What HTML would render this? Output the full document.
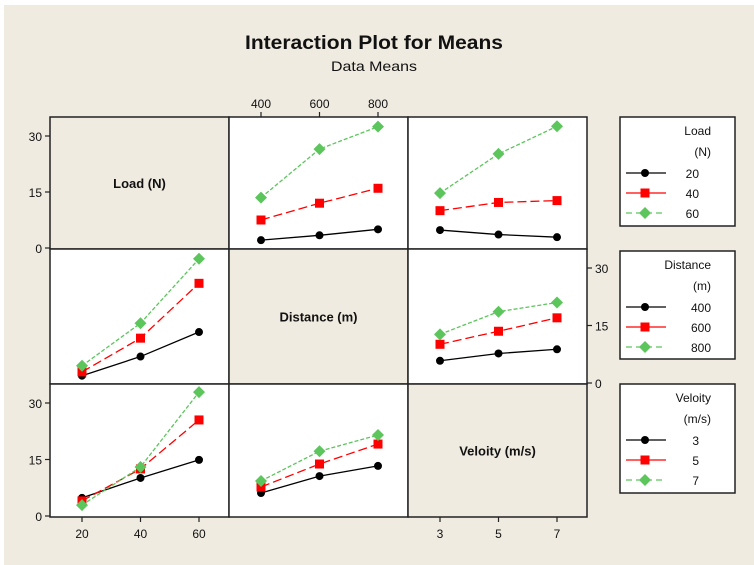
<!DOCTYPE html>
<html><head><meta charset="utf-8"><style>
html,body{margin:0;padding:0;background:#fff;}
svg{display:block;font-family:"Liberation Sans",sans-serif;}
</style></head><body>
<svg id="chart" width="754" height="565" viewBox="0 0 754 565">
<rect x="4" y="5" width="750" height="560" fill="#f0ebe1"/>
<text x="374" y="49" text-anchor="middle" font-size="19" font-weight="bold" textLength="258" lengthAdjust="spacingAndGlyphs" fill="#111">Interaction Plot for Means</text>
<text x="374" y="71" text-anchor="middle" font-size="14" textLength="86" lengthAdjust="spacingAndGlyphs" fill="#111">Data Means</text>
<g id="g"></g>
</svg>
<script>
// levels
const loadLevels = [20, 40, 60];
const distLevels = [400, 600, 800];
const velLevels = [3, 5, 7];
const yTicks = [0, 15, 30];
// row 1: Load traces
const loadByDist = [[2.1, 3.4, 5.0], [7.5, 12.0, 16.0], [13.5, 26.5, 32.5]];
const loadByVel = [[4.8, 3.6, 2.9], [10.0, 12.2, 12.7], [14.7, 25.2, 32.6]];
// row 2: Distance traces
const distByLoad = [[1.9, 6.9, 13.3], [2.9, 11.7, 26.0], [4.5, 15.6, 32.4]];
const distByVel = [[5.8, 7.7, 8.8], [10.1, 13.5, 17.0], [12.7, 18.6, 21.0]];
// row 3: Velocity traces
const velByLoad = [[4.8, 10.1, 14.9], [4.0, 12.5, 25.5], [2.9, 13.0, 32.9]];
const velByDist = [[6.1, 10.6, 13.3], [7.7, 13.8, 19.1], [9.3, 17.2, 21.5]];

const NS = "http://www.w3.org/2000/svg";
const g = document.getElementById('g');
function el(tag, attrs, parent) {
  const e = document.createElementNS(NS, tag);
  for (const k in attrs) e.setAttribute(k, attrs[k]);
  (parent || g).appendChild(e);
  return e;
}
const colX = [50, 229, 408, 587];
const rowY = [117, 249, 384, 517];
const colors = ['#000', '#f00', '#5cc55c'];
const dashes = ['', '9,4', '4,2'];
// x scale within a column: first level at +32, last at +148
function xScale(col, levels, v) {
  const a = colX[col] + 32, b = colX[col] + 149;
  return a + (v - levels[0]) / (levels[2] - levels[0]) * (b - a);
}
function yScale(row, v) {
  const y0 = rowY[row + 1] - 1, y30 = rowY[row] + 19;
  return y0 + v / 30 * (y30 - y0);
}
function marker(i, x, y, parent) {
  let m;
  if (i === 0) m = el('circle', {cx: x, cy: y, r: 4, fill: colors[0]}, parent);
  else if (i === 1) m = el('rect', {x: x - 4.5, y: y - 4.5, width: 9, height: 9, fill: colors[1]}, parent);
  else m = el('polygon', {points: `${x},${y-6} ${x+6},${y} ${x},${y+6} ${x-6},${y}`, fill: colors[2]}, parent);
  return m;
}
// cells
for (let r = 0; r < 3; r++) for (let c = 0; c < 3; c++) {
  const cell = el('rect', {x: colX[c], y: rowY[r], width: colX[c+1]-colX[c], height: rowY[r+1]-rowY[r], fill: r===c ? '#f0ebe1' : '#fff', stroke: '#222', 'stroke-width': 1.5});
  
  
}
const diagLabels = ['Load (N)', 'Distance (m)', 'Veloity (m/s)'];
diagLabels.forEach((t, i) => {
  const tx = el('text', {x: (colX[i]+colX[i+1])/2, y: (rowY[i]+rowY[i+1])/2 + 5, 'text-anchor': 'middle', 'font-size': 13, 'font-weight': 'bold', fill: '#111'});
  tx.textContent = t;
  
  
});
const panels = [
  {r:0, c:1, lev: distLevels, data: loadByDist},
  {r:0, c:2, lev: velLevels, data: loadByVel},
  {r:1, c:0, lev: loadLevels, data: distByLoad},
  {r:1, c:2, lev: velLevels, data: distByVel},
  {r:2, c:0, lev: loadLevels, data: velByLoad},
  {r:2, c:1, lev: distLevels, data: velByDist},
];
panels.forEach(p => {
  p.data.forEach((series, i) => {
    const pts = series.map((v, j) => [xScale(p.c, p.lev, p.lev[j]), yScale(p.r, v)]);
    const ln = el('polyline', {points: pts.map(q => q.join(',')).join(' '), fill: 'none', stroke: colors[i], 'stroke-width': 1.3, 'stroke-dasharray': dashes[i]});
    
    
    pts.forEach((q, j) => {
      const m = marker(i, q[0], q[1]);
      
      
    });
  });
});
// y axes: rows 0 and 2 on left, row 1 on right
[[0, 'left'], [1, 'right'], [2, 'left']].forEach(([r, side]) => {
  yTicks.forEach(t => {
    const y = yScale(r, t);
    const x = side === 'left' ? colX[0] : colX[3];
    const d = side === 'left' ? -5 : 5;
    el('line', {x1: x, y1: y, x2: x + d, y2: y, stroke: '#222', 'stroke-width': 1.2});
    const tx = el('text', {x: x + (side === 'left' ? -8 : 8), y: y + 5, 'text-anchor': side === 'left' ? 'end' : 'start', 'font-size': 12, fill: '#111'});
    tx.textContent = t;
    
    
  });
});
// x axes: col1 top (distance), col0 bottom (load), col2 bottom (velocity)
function xAxis(c, lev, top) {
  lev.forEach(v => {
    const x = xScale(c, lev, v);
    const y = top ? rowY[0] : rowY[3];
    const d = top ? -5 : 5;
    el('line', {x1: x, y1: y, x2: x, y2: y + d, stroke: '#222', 'stroke-width': 1.2});
    const tx = el('text', {x: x, y: top ? y - 9 : y + 21, 'text-anchor': 'middle', 'font-size': 12, fill: '#111'});
    tx.textContent = v;
    
    
  });
}
xAxis(1, distLevels, true);
xAxis(0, loadLevels, false);
xAxis(2, velLevels, false);
// legends
const legends = [
  {y: 117, h: 109, t1: 'Load', t2: '(N)', lev: loadLevels},
  {y: 251, h: 108, t1: 'Distance', t2: '(m)', lev: distLevels},
  {y: 384, h: 109, t1: 'Veloity', t2: '(m/s)', lev: velLevels},
];
legends.forEach((L, k) => {
  const lg = el('g', {});
  
  
  el('rect', {x: 620, y: L.y, width: 115, height: L.h, fill: '#fff', stroke: '#222', 'stroke-width': 1.5}, lg);
  const a = el('text', {x: 711, y: L.y + 18, 'text-anchor': 'end', 'font-size': 12, fill: '#111'}, lg);
  a.textContent = L.t1;
  const b = el('text', {x: 711, y: L.y + 39, 'text-anchor': 'end', 'font-size': 12, fill: '#111'}, lg);
  b.textContent = L.t2;
  L.lev.forEach((v, i) => {
    const y = L.y + 56 + i * 20;
    el('line', {x1: 626, y1: y, x2: 666, y2: y, stroke: colors[i], 'stroke-width': 1.3, 'stroke-dasharray': i === 2 ? '6,4' : ''}, lg);
    marker(i, 645, y, lg);
    const tx = el('text', {x: 699 + (k===1 ? 12 : 0), y: y + 5, 'text-anchor': 'end', 'font-size': 12, fill: '#111'}, lg);
    tx.textContent = v;
    
    
  });
});
</script>
</body></html>
